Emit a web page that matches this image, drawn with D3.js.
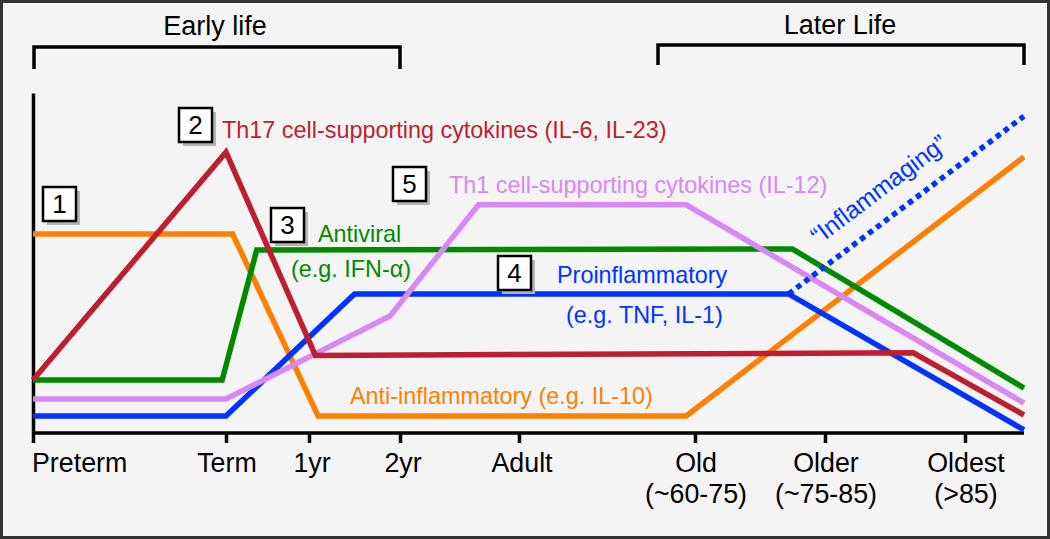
<!DOCTYPE html>
<html>
<head>
<meta charset="utf-8">
<script src="https://cdn.jsdelivr.net/npm/d3@7"></script>
<style>
  html, body { margin: 0; padding: 0; background: #f4f4f4; }
  svg { display: block; font-family: "Liberation Sans", Arial, sans-serif; }
</style>
</head>
<body>
<svg id="chart" width="1050" height="539"></svg>
<script>
// ---- Data ----
// x positions are in "stage" units: 0=Preterm, 1=Term, 2=1yr, 3=2yr, 4=Adult, 5=Old, 6=Older, 7=Oldest, 8=end of axis
const tickLabels = [["Preterm"], ["Term"], ["1yr"], ["2yr"], ["Adult"], ["Old", "(~60-75)"], ["Older", "(~75-85)"], ["Oldest", "(>85)"]];
const tickStages = [0, 1, 2, 3, 4, 5, 6, 7];

const antiInflammatory = [[0, 58.5], [1.08, 58.5], [2.1, 5], [4.95, 5], [8, 81.2]];
const th17 = [[0, 15.6], [1.0, 82.6], [2.07, 22.8], [6.63, 23.6], [8, 5.3]];
const antiviral = [[0, 15.6], [0.98, 15.6], [1.37, 53.8], [5.75, 54.1], [8, 13.2]];
const proinflammatory = [[0, 5], [1.0, 5], [2.5, 40.9], [5.72, 40.9], [8, 0.9]];
const th1 = [[0, 10], [1.0, 10], [2.89, 34.4], [3.66, 67.1], [4.95, 67.1], [8, 8.8]];
const inflammaging = [[5.72, 40.9], [8, 93.2]];

const seriesNames = ["Anti-inflammatory", "Antiviral", "Proinflammatory", "Th1", "Th17"];

// ---- Layout ----
const svg = d3.select("#chart");
const W = 1050, H = 539;

const x = d3.scaleLinear()
  .domain([0, 1, 2, 3, 4, 5, 6, 7, 8])
  .range([33, 226, 309, 400, 519, 695, 825, 965, 1024]);
const y = d3.scaleLinear().domain([0, 100]).range([433, 93]);

const colors = {
  orange: "#ff7f00",
  red: "#bf1e2e",
  green: "#008a00",
  blue: "#0033ff",
  violet: "#d987f5"
};

// frame
svg.append("rect")
  .attr("x", 1.5).attr("y", 1.5)
  .attr("width", W - 3).attr("height", H - 3)
  .attr("fill", "#f4f4f4")
  .attr("stroke", "#333").attr("stroke-width", 3);

// brackets
function bracket(x0, x1, yTop, yBot) {
  svg.append("path")
    .attr("d", `M${x0},${yBot} V${yTop} H${x1} V${yBot}`)
    .attr("fill", "none").attr("stroke", "#000").attr("stroke-width", 3.5)
    .attr("stroke-linejoin", "miter");
}
bracket(x(0) + 1, x(3), 47, 69);
bracket(658, x(8), 45, 65);

svg.append("text").attr("x", 215).attr("y", 35).attr("text-anchor", "middle")
  .attr("font-size", 27).attr("fill", "#000").text("Early life");
svg.append("text").attr("x", 840).attr("y", 34).attr("text-anchor", "middle")
  .attr("font-size", 27).attr("fill", "#000").text("Later Life");

// axes
const xAxis = d3.axisBottom(x)
  .tickValues(tickStages)
  .tickSize(10)
  .tickFormat("");
const gx = svg.append("g").attr("transform", `translate(0,${y(0)})`).call(xAxis);
gx.select(".domain").attr("d", `M${x(0)},0H${x(8)}`).attr("stroke", "#000").attr("stroke-width", 3.5);
gx.selectAll(".tick line").attr("stroke", "#000").attr("stroke-width", 3.5);

const gy = svg.append("g").attr("transform", `translate(${x(0)},0)`).call(d3.axisLeft(y).tickValues([]).tickSizeOuter(0));
gy.select(".domain").attr("stroke", "#000").attr("stroke-width", 3.5);

// tick labels
const tl = svg.append("g");
tickStages.forEach((s, i) => {
  const t = tl.append("text")
    .attr("x", i === 0 ? x(s) - 1 : x(s) + (i >= 2 && i <= 4 ? 3 : 1))
    .attr("y", 472)
    .attr("text-anchor", i === 0 ? "start" : "middle")
    .attr("font-size", 26.8).attr("fill", "#000");
  tickLabels[i].forEach((line, j) => {
    t.append("tspan").attr("x", t.attr("x")).attr("dy", j === 0 ? 0 : 31).text(line);
  });
});

// lines
const line = d3.line().x(d => x(d[0])).y(d => y(d[1]));
function drawLine(data, color, dash) {
  const p = svg.append("path").datum(data)
    .attr("d", line)
    .attr("fill", "none")
    .attr("stroke", color)
    .attr("stroke-width", 5.5)
    .attr("stroke-linejoin", "miter");
  if (dash) p.attr("stroke-dasharray", dash);
  return p;
}
drawLine(antiInflammatory, colors.orange);
drawLine(antiviral, colors.green);
drawLine(proinflammatory, colors.blue);
drawLine(th1, colors.violet);
drawLine(th17, colors.red);
drawLine(inflammaging, colors.blue, "5.5 4.5");

// numbered boxes
function numBox(bx, by, n) {
  const g = svg.append("g");
  g.append("rect").attr("x", bx + 4).attr("y", by + 4).attr("width", 33).attr("height", 34).attr("fill", "#b4b4b4");
  g.append("rect").attr("x", bx).attr("y", by).attr("width", 33).attr("height", 34)
    .attr("fill", "#fff").attr("stroke", "#000").attr("stroke-width", 2.5);
  g.append("text").attr("x", bx + 16.5).attr("y", by + 26).attr("text-anchor", "middle")
    .attr("font-size", 26).attr("fill", "#000").text(n);
}
numBox(43, 187, "1");
numBox(179, 108, "2");
numBox(271, 208, "3");
numBox(498, 256, "4");
numBox(393, 167, "5");

// series labels
function label(tx, ty, txt, color) {
  svg.append("text").attr("x", tx).attr("y", ty).attr("font-size", 23.4).attr("fill", color).text(txt);
}
label(222, 138, "Th17 cell-supporting cytokines (IL-6, IL-23)", colors.red);
label(318, 242, "Antiviral", colors.green);
label(291, 277, "(e.g. IFN-α)", colors.green);
label(557, 283, "Proinflammatory", colors.blue);
label(566, 323, "(e.g. TNF, IL-1)", colors.blue);
label(449, 193, "Th1 cell-supporting cytokines (IL-12)", colors.violet);
label(350, 404, "Anti-inflammatory (e.g. IL-10)", colors.orange);

svg.append("text")
  .attr("transform", "translate(884,196) rotate(-37)")
  .attr("text-anchor", "middle")
  .attr("font-size", 24.5).attr("fill", colors.blue)
  .text("\u201CInflammaging\u201D");
</script>
</body>
</html>
